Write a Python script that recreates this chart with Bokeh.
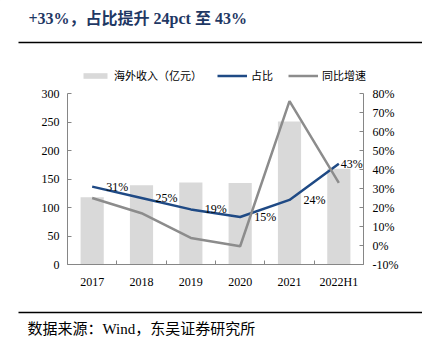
from bokeh.plotting import figure
from bokeh.models import Range1d, LinearAxis, FixedTicker, Legend, LegendItem
from bokeh.embed import file_html
from bokeh.resources import INLINE
from bokeh.core.properties import value

# ---- data ----
categories = ["2017", "2018", "2019", "2020", "2021", "2022H1"]
revenue = [118, 139, 144, 143, 251, 168]          # 海外收入（亿元）
share = [31, 25, 19, 15, 24, 43]                  # 占比 (%)
growth = [25, 17, 4, -0.4, 76, 33]                # 同比增速 (%)
share_labels = ["31%", "25%", "19%", "15%", "24%", "43%"]
left_ticks = [0, 50, 100, 150, 200, 250, 300]
right_ticks = [-10, 0, 10, 20, 30, 40, 50, 60, 70, 80]
title_text = "+33%，占比提升 24pct 至 43%"
footer_text = "数据来源：Wind，东吴证券研究所"
legend_names = ["海外收入（亿元）", "占比", "同比增速"]

FONT = "Liberation Serif, Noto Sans CJK SC"
BAR_C = "#D9D9D9"
BLUE = "#1F4A85"
GRAY = "#8C8C8C"
AXIS_C = "#868686"

W = 422
TOP_H, MAIN_H, BOT_H = 84, 221, 47


def blank(h):
    f = figure(width=W, height=h, x_range=Range1d(0, W), y_range=Range1d(h, 0),
               toolbar_location=None, output_backend="svg", min_border=0,
               x_axis_type=None, y_axis_type=None, outline_line_color=None)
    f.grid.visible = False
    return f


# ---- top: title, rule, legend ----
top = blank(TOP_H)
top.text(x=[28], y=[18], text=[title_text], text_font=value(FONT),
         text_font_size="16px", text_font_style="bold", text_color="#1F3864",
         text_baseline="middle", text_align="left")
top.segment(x0=[18], y0=[42], x1=[W], y1=[42], line_color="#000000", line_width=1.5)
# legend swatch proxies (kept outside the visible range of this banner)
off = [-1000, -999]
lg_bar = top.vbar(x=off[:1], top=off[:1], bottom=off[1:], width=1, fill_color=BAR_C, line_color=None)
lg_blue = top.line(x=off, y=off, line_color=BLUE, line_width=2.5)
lg_gray = top.line(x=off, y=off, line_color=GRAY, line_width=2.5)
legend = Legend(items=[LegendItem(label=legend_names[0], renderers=[lg_bar]),
                       LegendItem(label=legend_names[1], renderers=[lg_blue]),
                       LegendItem(label=legend_names[2], renderers=[lg_gray])],
                orientation="horizontal", location=(80, TOP_H - 83),
                glyph_width=30, glyph_height=7, label_height=12, label_standoff=4,
                spacing=15, padding=0, margin=0, border_line_color=None,
                background_fill_alpha=0,
                label_text_font=FONT, label_text_font_size="11px",
                label_text_color="#000000")
top.add_layout(legend)

# ---- main chart ----
xs = [i + 0.5 for i in range(len(categories))]
p = figure(width=W, height=MAIN_H, x_range=Range1d(0, len(categories)), y_range=Range1d(0, 300),
           toolbar_location=None, output_backend="svg",
           min_border_left=67, min_border_right=59, min_border_top=9, min_border_bottom=41,
           outline_line_color=None)
p.grid.visible = False
p.extra_y_ranges = {"pct": Range1d(-10, 80)}

p.vbar(x=xs, top=revenue, width=0.47, fill_color=BAR_C, line_color=None)
p.line(xs, share, y_range_name="pct", line_color=BLUE, line_width=2.5)
p.line(xs, growth, y_range_name="pct", line_color=GRAY, line_width=2.5)
label_dx = [14] * (len(categories) - 1) + [2]   # last label kept inside the frame
p.text(x=xs, y=share, y_range_name="pct", text=share_labels, x_offset=label_dx,
       text_align="left", text_baseline="middle", text_font=value(FONT),
       text_font_size="12px", text_color="#000000")

# x axis
xa = p.xaxis[0]
xa.ticker = FixedTicker(ticks=xs, minor_ticks=list(range(len(categories) + 1)))
xa.major_label_overrides = {x: c for x, c in zip(xs, categories)}
xa.major_tick_in = 0
xa.major_tick_out = 0
xa.minor_tick_in = 4
xa.minor_tick_out = 0
xa.minor_tick_line_color = AXIS_C
xa.axis_line_color = AXIS_C
xa.major_label_standoff = 10
xa.major_label_text_font = FONT
xa.major_label_text_font_size = "12px"
xa.major_label_text_color = "#000000"

# left axis
ya = p.yaxis[0]
ya.ticker = FixedTicker(ticks=left_ticks)
ya.major_tick_in = 4
ya.major_tick_out = 0
ya.minor_tick_line_color = None
ya.axis_line_color = AXIS_C
ya.major_tick_line_color = AXIS_C
ya.major_label_standoff = 8
ya.major_label_text_font = FONT
ya.major_label_text_font_size = "12px"
ya.major_label_text_color = "#000000"

# right axis
ra = LinearAxis(y_range_name="pct", ticker=FixedTicker(ticks=right_ticks))
ra.major_label_overrides = {t: f"{t}%" for t in right_ticks}
ra.major_tick_in = 4
ra.major_tick_out = 0
ra.minor_tick_line_color = None
ra.axis_line_color = AXIS_C
ra.major_tick_line_color = AXIS_C
ra.major_label_standoff = 9
ra.major_label_text_font = FONT
ra.major_label_text_font_size = "12px"
ra.major_label_text_color = "#000000"
p.add_layout(ra, "right")

# ---- footer ----
bot = blank(BOT_H)
bot.segment(x0=[18], y0=[7], x1=[W], y1=[7], line_color="#000000", line_width=1.5)
bot.text(x=[27], y=[23], text=[footer_text], text_font=value(FONT),
         text_font_size="15px", text_color="#000000",
         text_baseline="middle", text_align="left")

open("out.html", "w").write(file_html([top, p, bot], INLINE))
